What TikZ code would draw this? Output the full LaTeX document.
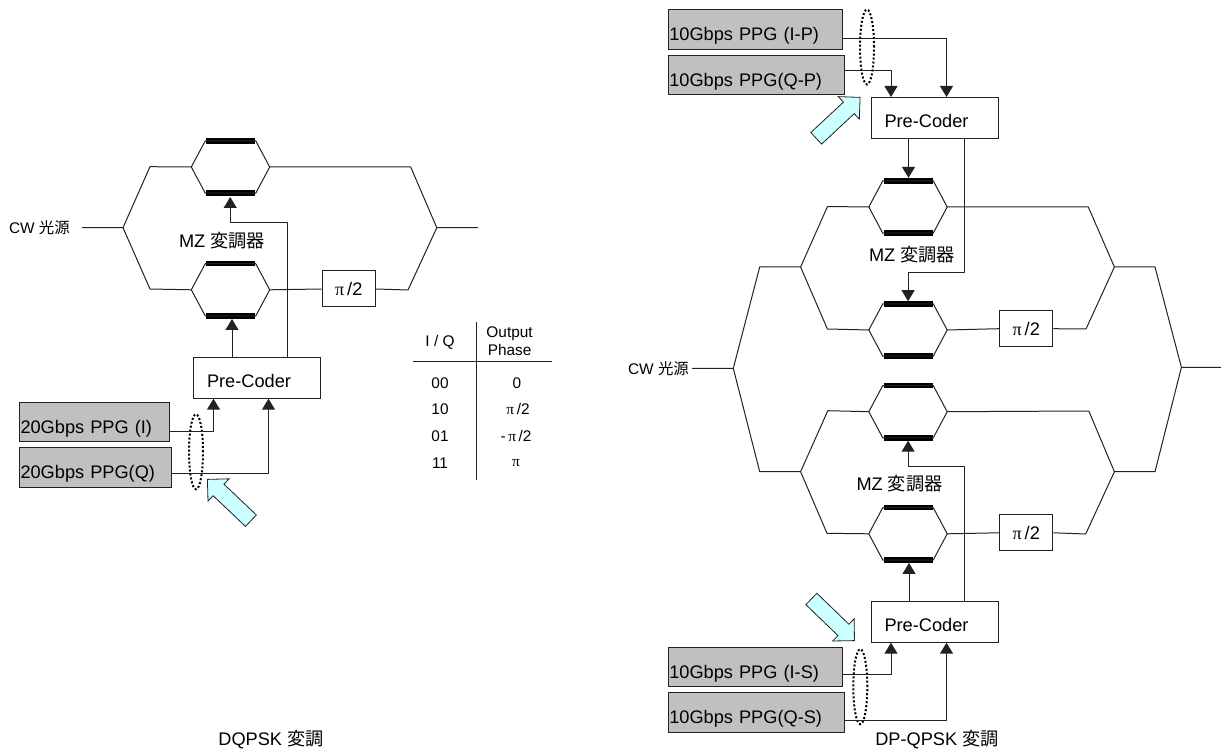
\documentclass[tikz,border=0pt]{standalone}
\usepackage{fontspec}
\setmainfont{Liberation Sans}
\newfontfamily\cjk{Noto Sans CJK JP}
\newfontfamily\grk{Liberation Serif}
\usepackage{xcolor}
\usetikzlibrary{arrows.meta,positioning,shapes.arrows,shapes.geometric}
\definecolor{ppggray}{HTML}{C0C0C0}
\definecolor{paleblue}{HTML}{CCFFFF}
\definecolor{wire}{HTML}{222222}
\newcommand{\mzlabel}{MZ {\cjk 変調器}}
\newcommand{\halfpi}{{\grk π}\,/2}
\begin{document}
\begin{tikzpicture}[
  x=1pt,y=-1pt,
  big/.style={font=\fontsize{18.2}{21}\selectfont},
  small/.style={font=\fontsize{15.4}{18}\selectfont,inner sep=0pt},
  wg/.style={draw=wire,line width=1pt,line join=round},
  arr/.style={wg,-{Triangle[length=11pt,width=13pt]}},
  mz/.style={inner sep=0pt,minimum width=78pt,minimum height=52pt},
  bar/.style={fill=black,inner sep=0pt,minimum width=49pt,minimum height=5.5pt},
  phase/.style={big,draw=wire,line width=1pt,inner sep=0pt,minimum width=53.4pt,minimum height=36pt},
  ppg/.style={big,draw=wire,line width=1pt,fill=ppggray,anchor=north west,inner xsep=1pt,inner ysep=0pt,
    minimum height=39.6pt,text width=148pt,align=left,text height=22pt,text depth=0pt},
  coder/.style={big,draw=wire,line width=1pt,inner xsep=13.5pt,inner ysep=0pt,minimum height=41pt,text width=100pt,
    align=left,text height=19pt,text depth=0pt},
  loopmark/.style={ellipse,draw=black,line width=2pt,dotted,inner sep=0pt,minimum width=14pt,minimum height=75pt},
  hint/.style={single arrow,draw=wire,fill=paleblue,line width=0.8pt,inner xsep=0pt,inner ysep=7.5pt,minimum height=60pt,
    single arrow head extend=7.5pt,single arrow tip angle=90,anchor=tip}
]
  \useasboundingbox (0,0) rectangle (1221,751);

  % left modulator
  \node[small,anchor=east] (cwa) at (70,227.7) {CW {\cjk 光源}};
  \coordinate (cwaend) at (82,227.7);
  \coordinate (spla) at (123,227.7);
  \coordinate (joina) at (436.8,227.7);
  \coordinate (outa) at (477.9,227.7);
  \node[mz] (mza) at (230.5,167) {};
  \node[mz] (mzb) at (230.5,289.8) {};
  \node[bar] (mzat) at (mza.north) {};
  \node[bar] (mzab) at (mza.south) {};
  \node[bar] (mzbt) at (mzb.north) {};
  \node[bar] (mzbb) at (mzb.south) {};
  \node[phase] (pia) at (348.7,289) {\halfpi};
  \node[big] (mzla) at (222,240.7) {\mzlabel};
  \node[coder,anchor=north west] (prea) at (193,356.7) {Pre-Coder};
  \node[ppg] (ppgi) at (19,401.7) {20Gbps PPG (I)};
  \node[ppg,below=5pt of ppgi.south west,anchor=north west,text width=149.6pt] (ppgq) {20Gbps PPG(Q)};
  \node[loopmark] (loopa) at (196,451.8) {};
  \node[hint,rotate=136.5] (hinta) at (207,479) {};

  \draw[wg] (cwaend) -- (spla) -- (150,166.7) -- (mza.west);
  \draw[wg] (spla) -- (150,289) -- (mzb.west);
  \draw[wg] (mza.east) -- (410.7,167) -- (joina) -- (outa);
  \draw[wg] (mzb.east) -- (pia.west);
  \draw[wg] (pia.east) -- (408,290) -- (joina);
  \draw[arr] ([xshift=-25pt]prea.north) -- ([xshift=-25pt]prea.north |- mzbb.south);
  \draw[arr] ([xshift=30pt]prea.north) -- ([xshift=30pt]prea.north |- 0,222.7) -- ++(-56.8,0) -- ++(0,-25.7);
  \draw[arr] ([yshift=-9.5pt]ppgi.east) -| ([xshift=-43.5pt]prea.south);
  \draw[arr] ([yshift=-6pt]ppgq.east) -| ([xshift=11.5pt]prea.south);

  % table
  \draw[wg] (476.8,322.3) -- (476.8,480);
  \draw[wg] (413,361) -- (552,361);
  \node[small] (tiq) at (440,342.3) {I / Q};
  \node[small,align=center] (tout) at (509.6,341) {Output\\Phase};
  \node[small] (rowa) at (440,383.3) {00};
  \node[small] (rowb) at (440,409.3) {10};
  \node[small] (rowc) at (440,435.7) {01};
  \node[small] (rowd) at (440,463) {11};
  \node[small] (vala) at (516.8,383.3) {0};
  \node[small] (valb) at (518,409.3) {{\grk π}\,/2};
  \node[small] (valc) at (516,435.7) {-\,{\grk π}\,/2};
  \node[small] (vald) at (516,463) {{\grk π}};
  \node[big] (capa) at (271,740) {DQPSK {\cjk 変調}};

  % right modulator
  \node[small,anchor=east] (cwb) at (689,368.3) {CW {\cjk 光源}};
  \coordinate (cwbend) at (692,368.3);
  \coordinate (splb) at (733.3,368.3);
  \coordinate (upl) at (759.7,267);
  \coordinate (upm) at (800.6,267);
  \coordinate (lol) at (759.7,471.7);
  \coordinate (lom) at (800.6,471.7);
  \coordinate (upr) at (1114.4,267);
  \coordinate (upo) at (1155,267);
  \coordinate (lor) at (1114.4,471.7);
  \coordinate (loo) at (1155,471.7);
  \coordinate (joinb) at (1181.4,367.3);
  \coordinate (outb) at (1221,367.3);
  \node[mz] (mzc) at (908,207) {};
  \node[mz] (mzd) at (908,330) {};
  \node[mz] (mze) at (908,411.7) {};
  \node[mz] (mzf) at (908,533.8) {};
  \foreach \m in {c,d,e,f}{
    \node[bar] (mz\m t) at (mz\m.north) {};
    \node[bar] (mz\m b) at (mz\m.south) {};
  }
  % hexagon outlines
  \foreach \m in {mza,mzb,mzc,mzd,mze,mzf}
    \draw[wg] (\m.west) -- ([xshift=14pt]\m.north west) -- ([xshift=-14pt]\m.north east) -- (\m.east)
      -- ([xshift=-14pt]\m.south east) -- ([xshift=14pt]\m.south west) -- cycle;
  \node[phase] (pib) at (1026.2,328.7) {\halfpi};
  \node[phase] (pic) at (1026.2,532.8) {\halfpi};
  \node[big] (mzlb) at (912,255) {\mzlabel};
  \node[big] (mzlc) at (899.5,484) {\mzlabel};
  \node[coder,anchor=north west] (preb) at (870.5,97) {Pre-Coder};
  \node[coder,anchor=north west] (prec) at (870.5,600.7) {Pre-Coder};
  \node[ppg,text width=172.5pt] (ppgip) at (667.8,9.3) {10Gbps PPG (I-P)};
  \node[ppg,below=5pt of ppgip.south west,anchor=north west,text width=174pt] (ppgqp) {10Gbps PPG(Q-P)};
  \node[ppg,text width=172.5pt] (ppgis) at (667.8,646.7) {10Gbps PPG (I-S)};
  \node[ppg,below=5pt of ppgis.south west,anchor=north west,text width=174pt] (ppgqs) {10Gbps PPG(Q-S)};
  \node[loopmark] (loopb) at (867,47) {};
  \node[loopmark] (loopc) at (860.3,686.7) {};
  \node[hint,rotate=43] (hintb) at (860.5,97) {};
  \node[hint,rotate=-44] (hintc) at (854.9,641) {};

  \draw[wg] (cwbend) -- (splb) -- (upl) -- (upm) -- (827.5,206.5) -- (mzc.west);
  \draw[wg] (splb) -- (lol) -- (lom) -- (827.8,410.7) -- (mze.west);
  \draw[wg] (upm) -- (827.4,329) -- (mzd.west);
  \draw[wg] (lom) -- (827,533.3) -- (mzf.west);
  \draw[wg] (mzc.east) -- (1088.3,207) -- (upr) -- (upo) -- (joinb) -- (outb);
  \draw[wg] (mze.east) -- (1088.8,411) -- (lor) -- (loo) -- (joinb);
  \draw[wg] (mzd.east) -- (pib.west);
  \draw[wg] (pib.east) -- (1086,329) -- (upr);
  \draw[wg] (mzf.east) -- (pic.west);
  \draw[wg] (pic.east) -- (1085.7,534) -- (lor);

  \draw[arr] ([yshift=-9pt]ppgip.east) -| ([xshift=12pt]preb.north);
  \draw[arr] ([yshift=5pt]ppgqp.east) -| ([xshift=-43.5pt]preb.north);
  \draw[arr] ([xshift=-26pt]preb.south) -- ([xshift=-26pt]preb.south |- mzct.north);
  \draw[arr] ([xshift=30pt]preb.south) -- ([xshift=30pt]preb.south |- 0,272.7) -- ++(-56.4,0) -- ++(0,28.5);
  \draw[arr] ([xshift=-25.5pt]prec.north) -- ([xshift=-25.5pt]prec.north |- mzfb.south);
  \draw[arr] ([xshift=30pt]prec.north) -- ([xshift=30pt]prec.north |- 0,466.7) -- ++(-56.4,0) -- ++(0,-26);
  \draw[arr] ([yshift=-7.5pt]ppgis.east) -| ([xshift=-43.5pt]prec.south);
  \draw[arr] ([yshift=-8pt]ppgqs.east) -| ([xshift=12pt]prec.south);

  \node[big] (capb) at (937,740) {DP-QPSK {\cjk 変調}};
\end{tikzpicture}
\end{document}
